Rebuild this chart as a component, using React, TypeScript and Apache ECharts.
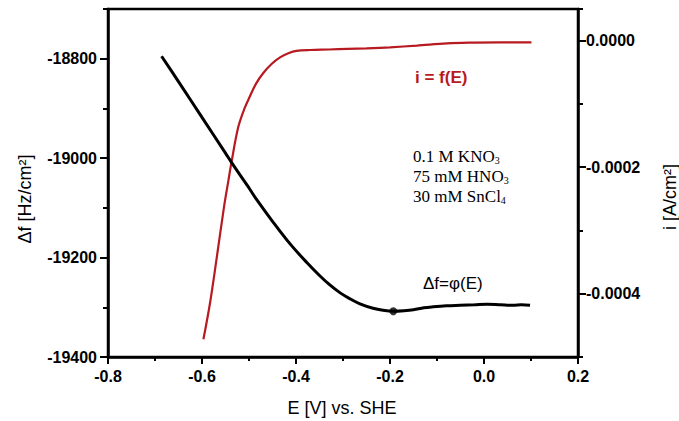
import React, { useEffect, useRef } from "react";
import * as echarts from "echarts";

// Δf = φ(E) (black, left axis, Hz/cm²)
const E_FREQ = [-0.686, -0.65, -0.6, -0.55, -0.537, -0.5, -0.484, -0.45, -0.413, -0.377, -0.35, -0.328, -0.306, -0.285, -0.264, -0.236, -0.215, -0.193, -0.17, -0.15, -0.128, -0.108, -0.08, -0.051, -0.02, 0.006, 0.035, 0.062, 0.08, 0.098];
const F_FREQ = [-18795, -18846, -18918, -18990, -19009, -19060, -19083, -19127, -19172, -19210, -19236, -19255, -19271, -19283, -19293, -19302, -19306, -19308, -19307, -19305, -19301, -19299, -19297, -19296, -19295, -19294, -19295, -19296, -19295, -19296];
const MIN_POINT = [-0.193, -19308];

// i = f(E) (red, right axis, A/cm²)
const E_CURR = [-0.597, -0.583, -0.569, -0.553, -0.544, -0.537, -0.523, -0.51, -0.498, -0.485, -0.47, -0.452, -0.434, -0.415, -0.399, -0.37, -0.33, -0.29, -0.25, -0.2, -0.143, -0.079, -0.02, 0.034, 0.101];
const I_CURR = [-0.000472, -0.000415, -0.000345, -0.000262, -0.000222, -0.000191, -0.000137, -0.000108, -0.000088, -0.000068, -0.0000515, -0.000037, -0.0000265, -0.0000195, -0.0000162, -0.0000148, -0.000014, -0.000013, -0.0000121, -0.0000105, -0.0000079, -0.0000042, -0.000003, -0.0000026, -0.0000026];

const X_MIN = -0.8, X_MAX = 0.2;
const F_MIN = -19400, F_MAX = -18700;
const I_MIN = -0.0005, I_MAX = 0.00005;
const F_MAJOR = [-19400, -19200, -19000, -18800];
const I_MAJOR = [-0.0004, -0.0002, 0];

const X_TITLE = "E [V] vs. SHE";
const LEFT_TITLE = "Δf [Hz/cm²]";
const RIGHT_TITLE = "i [A/cm²]";
const CURR_LABEL = "i = f(E)";
const FREQ_LABEL = "Δf=φ(E)";
const SOLUTION = [
  ["0.1 M KNO", "3"],
  ["75 mM HNO", "3"],
  ["30 mM SnCl", "4"],
];

const SANS = "'Liberation Sans', Arial, sans-serif";
const SERIF = "'Liberation Serif', 'Times New Roman', serif";
const RED = "#b71a20";

export default function App() {
  const ref = useRef<HTMLDivElement>(null);
  useEffect(() => {
    if (!ref.current) return;
    const chart = echarts.init(ref.current, null, { renderer: "svg" });
    const freqData = E_FREQ.map((e, k) => [e, F_FREQ[k]]);
    const currData = E_CURR.map((e, k) => [e, I_CURR[k]]);
    const axisLine = { show: true, onZero: false, lineStyle: { color: "#000", width: 2.5 } };
    const labelStyle = { color: "#000", fontSize: 16, fontWeight: "bold" as const, fontFamily: SANS };
    const solutionTexts = SOLUTION.map(([main, sub], k) => ({
      type: "text", x: 413, y: 147 + k * 20,
      style: {
        text: `{m|${main}}{s|${sub}}`,
        fill: "#000", align: "left", verticalAlign: "top",
        rich: {
          m: { fontFamily: SERIF, fontSize: 17, lineHeight: 18, verticalAlign: "bottom" },
          s: { fontFamily: SERIF, fontSize: 10, lineHeight: 2, verticalAlign: "bottom" },
        },
      },
    }));
    chart.setOption({
      animation: false,
      grid: { left: 108, right: 101, top: 9, bottom: 64, show: true, borderColor: "#000", borderWidth: 2.5, backgroundColor: "transparent" },
      xAxis: {
        type: "value", min: X_MIN, max: X_MAX, interval: 0.2,
        axisLine,
        axisTick: { show: true, inside: false, length: 7, lineStyle: { color: "#000", width: 2 } },
        minorTick: { show: true, splitNumber: 2, length: 4, lineStyle: { color: "#000", width: 2 } },
        splitLine: { show: false }, minorSplitLine: { show: false },
        axisLabel: { ...labelStyle, margin: 11, formatter: (v: number) => (Math.abs(v) < 1e-9 ? 0 : v).toFixed(1) },
      },
      yAxis: [
        {
          type: "value", position: "left", min: F_MIN, max: F_MAX, interval: 100,
          axisLine,
          axisTick: { show: true, inside: false, length: 5, lineStyle: { color: "#000", width: 2 } },
          splitLine: { show: false },
          axisLabel: { ...labelStyle, margin: 11, formatter: (v: number) => (Math.round(v) % 200 === 0 && Math.round(v) !== F_MAX ? String(Math.round(v)) : "") },
        },
        {
          type: "value", position: "right", min: I_MIN, max: I_MAX, interval: 0.0001,
          axisLine,
          axisTick: { show: true, inside: false, length: 5, lineStyle: { color: "#000", width: 2 } },
          splitLine: { show: false },
          axisLabel: {
            ...labelStyle, margin: 8,
            formatter: (v: number) => {
              const k = Math.round(v * 1e4);
              if (Math.abs(v * 1e4 - k) > 0.01 || k % 2 !== 0) return "";
              return k === 0 ? "0.0000" : (k / 1e4).toFixed(4);
            },
          },
        },
        {
          type: "value", position: "left", min: F_MIN, max: F_MAX, interval: 200,
          axisLine: { show: false, onZero: false },
          axisTick: { show: true, inside: false, length: 8, customValues: F_MAJOR, lineStyle: { color: "#000", width: 2 } },
          axisLabel: { show: false }, splitLine: { show: false },
        },
        {
          type: "value", position: "right", min: I_MIN, max: I_MAX, interval: 0.0002,
          axisLine: { show: false, onZero: false },
          axisTick: { show: true, inside: false, length: 8, customValues: I_MAJOR, lineStyle: { color: "#000", width: 2 } },
          axisLabel: { show: false }, splitLine: { show: false },
        },
      ],
      series: [
        {
          type: "line", yAxisIndex: 0, data: freqData, showSymbol: false, smooth: 0.35,
          lineStyle: { color: "#000", width: 3 }, z: 3,
        },
        {
          type: "scatter", yAxisIndex: 0, data: [MIN_POINT], symbol: "circle", symbolSize: 8,
          itemStyle: { color: "#000" }, z: 4,
        },
        {
          type: "line", yAxisIndex: 1, data: currData, showSymbol: false, smooth: 0.35,
          lineStyle: { color: RED, width: 2.2 }, z: 2,
        },
      ],
      graphic: [
        { type: "text", x: 342, y: 408, style: { text: X_TITLE, font: `18px ${SANS}`, fill: "#000", align: "center", verticalAlign: "middle" } },
        { type: "text", x: 25, y: 199, rotation: Math.PI / 2, style: { text: LEFT_TITLE, font: `18px ${SANS}`, fill: "#000", align: "center", verticalAlign: "middle" } },
        { type: "text", x: 670, y: 197, rotation: Math.PI / 2, style: { text: RIGHT_TITLE, font: `18px ${SANS}`, fill: "#000", align: "center", verticalAlign: "middle" } },
        { type: "text", x: 415, y: 77, style: { text: CURR_LABEL, font: `bold 17px ${SANS}`, fill: RED, align: "left", verticalAlign: "middle" } },
        { type: "text", x: 423, y: 283, style: { text: FREQ_LABEL, font: `17px ${SANS}`, fill: "#000", align: "left", verticalAlign: "middle" } },
        ...solutionTexts,
      ],
    });
    return () => chart.dispose();
  }, []);
  return <div ref={ref} style={{ position: "fixed", left: 0, top: 0, width: 679, height: 421, background: "#fff" }} />;
}
